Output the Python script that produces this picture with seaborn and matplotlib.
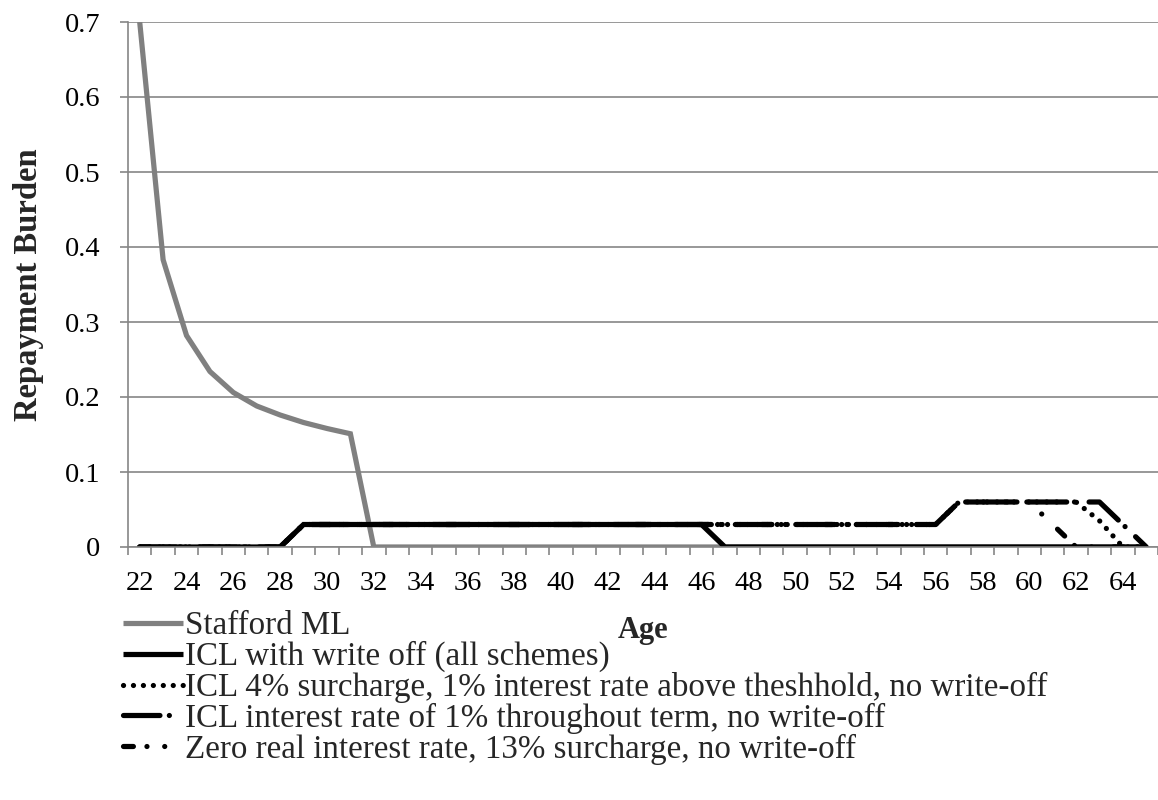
import numpy as np
import pandas as pd
import matplotlib
matplotlib.use("Agg")
import matplotlib.pyplot as plt
from matplotlib.ticker import FixedLocator, NullFormatter
import seaborn as sns

# ---- data -------------------------------------------------------------
ages = list(range(22, 66))

stafford_ml = [0.70, 0.383, 0.282, 0.234, 0.206, 0.188, 0.176, 0.166, 0.158, 0.151] + [0.0] * 34
icl_write_off = [0.0] * 7 + [0.03] * 18 + [0.0] * 19
icl_4pct_surcharge = [0.0] * 7 + [0.03] * 28 + [0.06] * 6 + [0.035, 0.0, 0.0]
icl_1pct_interest = [0.0] * 7 + [0.03] * 28 + [0.06] * 7 + [0.03, 0.0]
zero_real_13pct = [0.0] * 7 + [0.03] * 28 + [0.06] * 4 + [0.03] + [0.0] * 4

series_labels = [
    "Stafford ML",
    "ICL with write off (all schemes)",
    "ICL 4% surcharge, 1% interest rate above theshhold, no write-off",
    "ICL interest rate of 1% throughout term, no write-off",
    "Zero real interest rate, 13% surcharge, no write-off",
]
y_ticks = [0, 0.1, 0.2, 0.3, 0.4, 0.5, 0.6, 0.7]
y_tick_labels = ["0", "0.1", "0.2", "0.3", "0.4", "0.5", "0.6", "0.7"]

# ---- style ------------------------------------------------------------
sns.set_theme(style="white")
plt.rcParams["font.family"] = ["Liberation Serif", "DejaVu Serif"]

TICK_FS = 20.5
LABEL_FS = 22
YLABEL_FS = 23.5
LEGEND_FS = 23.8

fig = plt.figure(figsize=(11.58, 8.0), dpi=100)
ax = fig.add_axes([128 / 1158, 1 - 547 / 800, 1 - 128 / 1158, (547 - 22) / 800])

pos = np.arange(len(ages))
frame = pd.DataFrame({
    "pos": pos,
    series_labels[0]: stafford_ml,
    series_labels[1]: icl_write_off,
    series_labels[2]: icl_4pct_surcharge,
    series_labels[3]: icl_1pct_interest,
    series_labels[4]: zero_real_13pct,
})

# dash patterns are in units of the line width
lw = 3.75
styles = [
    dict(color="#808080", linestyle="-"),
    dict(color="black", linestyle="-"),
    dict(color="black", linestyle=(0, (0.01, 1.9))),
    dict(color="black", linestyle=(0, (7.0, 1.8, 0.01, 2.8))),
    dict(color="black", linestyle=(0, (1.9, 2.6, 0.01, 3.4, 0.01, 4.2))),
]

for label, st in zip(series_labels, styles):
    sns.lineplot(data=frame, x="pos", y=label, ax=ax, label=label,
                 lw=lw, solid_capstyle="butt", dash_capstyle="round",
                 solid_joinstyle="miter", clip_on=True, **st)

# ---- axes -------------------------------------------------------------
ax.set_xlim(-0.5, len(ages) - 0.5)
ax.set_ylim(0, 0.7)

ax.set_yticks(y_ticks)
ax.set_yticklabels(y_tick_labels)
ax.yaxis.grid(True, color="#868686", lw=1.2)
ax.xaxis.grid(False)
ax.set_axisbelow(True)

ax.set_xticks(pos[::2])
ax.set_xticklabels([str(a) for a in ages[::2]])
ax.xaxis.set_minor_locator(FixedLocator(np.arange(-0.5, len(ages), 1.0)))
ax.xaxis.set_minor_formatter(NullFormatter())
ax.tick_params(axis="x", which="major", length=0, pad=17.5, labelsize=TICK_FS, colors="black")
ax.tick_params(axis="x", which="minor", length=6, width=1.2, color="#868686", bottom=True)
ax.tick_params(axis="y", which="major", length=6, width=1.2, color="#868686",
               pad=14, labelsize=TICK_FS, left=True, labelcolor="black")

for side in ("top", "right"):
    ax.spines[side].set_visible(False)
for side in ("left", "bottom"):
    ax.spines[side].set_color("#868686")
    ax.spines[side].set_linewidth(1.2)

ax.set_xlabel("Age", fontweight="bold", fontsize=LABEL_FS, labelpad=14)
ax.set_ylabel("Repayment Burden", fontweight="bold", fontsize=YLABEL_FS, labelpad=15)

ax.get_legend().remove()
handles, labels = ax.get_legend_handles_labels()
fig.legend(handles, labels, loc="upper left",
           bbox_to_anchor=(123 / 1158, 1 - 611 / 800),
           frameon=False, borderpad=0, borderaxespad=0,
           handlelength=1.8, handletextpad=0.08, labelspacing=-0.01,
           fontsize=LEGEND_FS)

fig.savefig("out.png", dpi=100)
